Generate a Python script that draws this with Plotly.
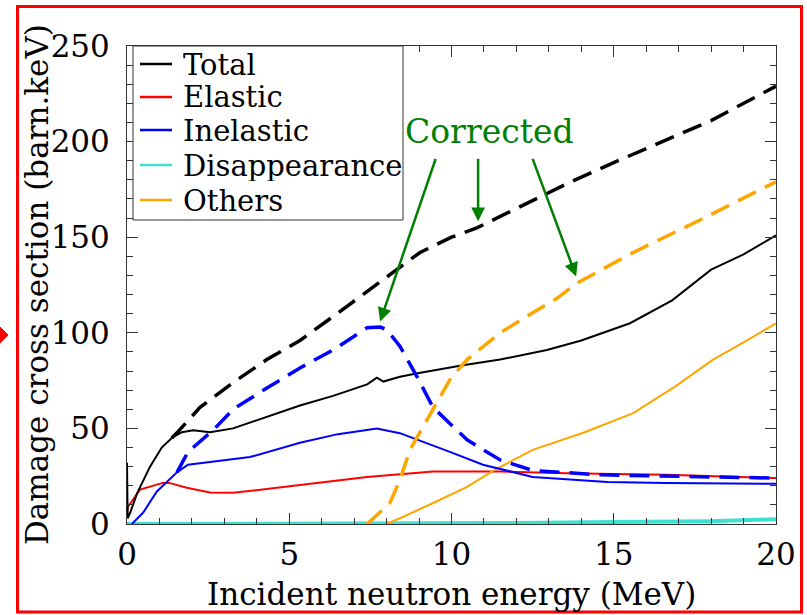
import plotly.graph_objects as go

# ---------------- data ----------------
E_total = [0, 0.02, 0.1, 0.31, 0.71, 1.07, 1.38, 1.69, 2.04, 2.56, 3.27, 4.3, 5.33, 6.35,
           7.4, 7.7, 7.9, 8.41, 9.0, 10.35, 11.5, 12.94, 14.0, 15.5, 16.8, 18.0, 19.0, 20]
V_total = [32, 3, 6, 16, 30, 40, 45, 48, 49, 48, 50, 56, 62, 67,
           73, 76.5, 74.5, 77, 79, 83, 86, 91, 96, 105, 117, 133, 141, 151]

E_total_corr = [1.38, 1.54, 2.25, 3.27, 4.31, 5.33, 6.35, 8.0, 9.03, 10.0, 10.8, 12.0,
                13.56, 15.0, 16.64, 18.0, 20]
V_total_corr = [45, 47.7, 61, 74, 86, 96, 108.5, 129, 142, 150, 155, 165,
                178, 189, 201, 211, 229]

E_elastic = [0, 0.03, 0.4, 1.1, 1.3, 1.84, 2.56, 3.27, 5.33, 7.4, 9.43, 11.5, 13.56, 16.6, 20]
V_elastic = [6, 9, 18, 21.5, 21.5, 19, 16.5, 16.3, 20.4, 24.6, 27.4, 27.4, 26.6, 25.7, 24]

E_inel = [0.15, 0.5, 0.92, 1.54, 1.88, 2.56, 3.79, 5.33, 6.5, 7.7, 8.41, 9.95, 10.97,
          12.5, 14.8, 16.6, 20]
V_inel = [0, 6, 17, 27, 31, 32.5, 35, 42.5, 47, 50, 47.5, 37.7, 31,
          24.6, 22, 21.5, 21]

E_inel_corr = [1.54, 1.88, 2.65, 3.27, 4.3, 5.33, 6.35, 7.4, 7.8, 8.0, 8.41, 8.94, 9.43,
               10.48, 11.5, 12.5, 14.6, 20]
V_inel_corr = [27, 37.7, 49, 60, 71, 81.6, 91, 102.6, 103, 101.7, 93, 77, 61,
               44, 33.5, 28, 25.7, 24]

E_disap = [0, 8, 12, 15, 18, 20]
V_disap = [0, 0, 0.5, 1, 1.5, 2.5]

E_others = [8.0, 8.41, 9.5, 10.48, 11.3, 12.5, 14.06, 15.6, 16.9, 18.06, 19, 20]
V_others = [0, 3, 11.5, 19.4, 28, 38.8, 47.7, 58, 72, 86, 95, 105]

E_others_corr = [7.4, 8.1, 8.41, 8.72, 9.43, 9.95, 10.48, 11.5, 12.5, 13.25, 13.87,
                 15.6, 17.66, 20]
V_others_corr = [0, 11, 23, 38.8, 60, 75.5, 86, 100, 110.5, 118, 126,
                 142, 159, 179]

legend_labels = ["Total", "Elastic", "Inelastic", "Disappearance", "Others"]
legend_colors = ["black", "#ff0000", "#0000ff", "#40e0d0", "#ffa500"]

x_title = "Incident neutron energy (MeV)"
y_title = "Damage cross section (barn.keV)"

# arrow heads (data coords) for the "Corrected" callouts
arrow_E = [7.80, 10.82, 13.84]
arrow_V = [105.9, 158.3, 129.5]

FONT = "DejaVu Serif"
DASH = "20px,10px"

fig = go.Figure()

def add(x, y, color, dash="solid", width=2):
    fig.add_trace(go.Scatter(x=x, y=y, mode="lines", showlegend=False,
                             line=dict(color=color, width=width, dash=dash)))

add(E_disap, V_disap, "#40e0d0", width=4)
add(E_elastic, V_elastic, "#ff0000")
add(E_others, V_others, "#ffa500")
add(E_inel, V_inel, "#0000ff")
add(E_total, V_total, "black")
add(E_others_corr, V_others_corr, "#ffa500", DASH, 3.5)
add(E_inel_corr, V_inel_corr, "#0000ff", DASH, 3.5)
add(E_total_corr, V_total_corr, "black", DASH, 3.5)

# plot area in pixels: x 127..776, y 46..524
L, R, T, B = 127, 776, 46, 524
W, H = R - L, B - T
def px(xp):
    return (xp - L) / W
def py(yp):
    return (B - yp) / H

shapes = []
shapes.append(dict(type="rect", xref="paper", yref="paper",
                   x0=px(17.5), x1=px(801.5), y0=py(612), y1=py(6.5),
                   line=dict(color="#ff0000", width=3), fillcolor="rgba(0,0,0,0)"))
shapes.append(dict(type="path", xref="paper", yref="paper",
                   path=f"M {px(0)},{py(327)} L {px(8)},{py(335)} L {px(0)},{py(343)} Z",
                   fillcolor="#ff0000", line=dict(color="#ff0000", width=1)))
shapes.append(dict(type="rect", xref="paper", yref="paper", layer="above",
                   x0=px(133), x1=px(403), y0=py(220), y1=py(46),
                   line=dict(color="#333", width=1), fillcolor="white"))
leg_y = [64, 97, 130, 165, 200]
annotations = []
for lab, col, yy in zip(legend_labels, legend_colors, leg_y):
    shapes.append(dict(type="line", xref="paper", yref="paper", layer="above",
                       x0=px(140), x1=px(172), y0=py(yy), y1=py(yy),
                       line=dict(color=col, width=2.5)))
    annotations.append(dict(xref="paper", yref="paper", x=px(181), y=py(yy),
                            xanchor="left", yanchor="middle", showarrow=False,
                            height=31, valign="middle",
                            text=lab, font=dict(family=FONT, size=29, color="black")))

annotations.append(dict(xref="paper", yref="paper", x=px(489.5), y=py(131),
                        xanchor="center", yanchor="middle", showarrow=False,
                        text="Corrected", font=dict(family=FONT, size=33, color="#008000")))
tails = [(56, -164), (0, -64), (-44, -119)]
for e, v, (ax, ay) in zip(arrow_E, arrow_V, tails):
    annotations.append(dict(x=e, y=v, xref="x", yref="y", ax=ax, ay=ay, text="",
                            showarrow=True, arrowhead=2, arrowsize=1.1, arrowwidth=2.5,
                            arrowcolor="#008000"))

# axis titles
annotations.append(dict(xref="paper", yref="paper", x=px(451.5), y=py(594),
                        xanchor="center", yanchor="middle", showarrow=False,
                        text=x_title, font=dict(family=FONT, size=31, color="black")))
annotations.append(dict(xref="paper", yref="paper", x=px(37), y=py(285),
                        xanchor="center", yanchor="middle", showarrow=False, textangle=-90,
                        text=y_title, font=dict(family=FONT, size=31, color="black")))

axis_common = dict(showline=True, linecolor="#333", linewidth=1, mirror="ticks",
                   ticks="inside", ticklen=11, tickwidth=1, tickcolor="#333",
                   showgrid=False, zeroline=False, automargin=False,
                   tickfont=dict(family=FONT, size=31, color="black"))

fig.update_layout(
    width=807, height=615,
    margin=dict(l=L, r=807 - R, t=T, b=615 - B),
    paper_bgcolor="white", plot_bgcolor="white",
    font=dict(family=FONT),
    xaxis=dict(range=[0, 20], dtick=5, tick0=0,
               minor=dict(dtick=1, ticks="inside", ticklen=6, tickcolor="#333"),
               ticklabelstandoff=3, **axis_common),
    yaxis=dict(range=[0, 250], dtick=50, tick0=0,
               minor=dict(dtick=10, ticks="inside", ticklen=6, tickcolor="#333"),
               ticklabelstandoff=10, **axis_common),
    shapes=shapes, annotations=annotations, showlegend=False,
)

fig.write_html("out.html")
